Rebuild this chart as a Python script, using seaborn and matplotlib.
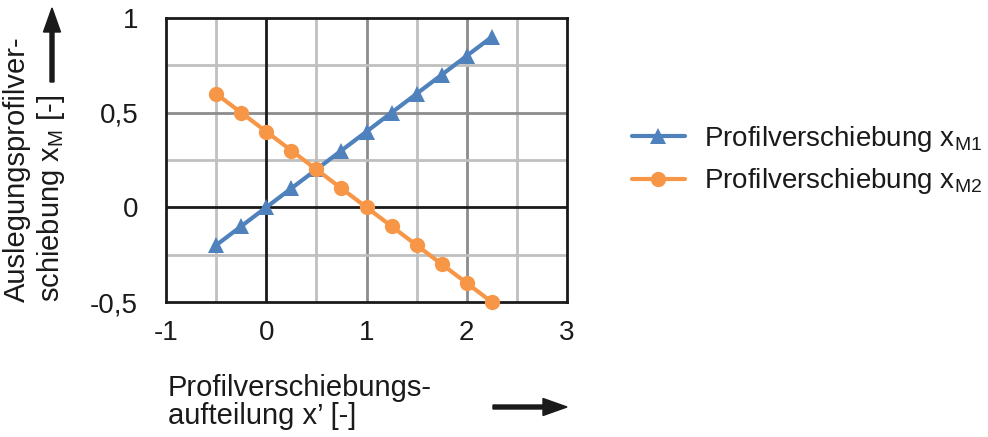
import numpy as np
import pandas as pd
import matplotlib
matplotlib.use("Agg")
import matplotlib.pyplot as plt
from matplotlib.patches import FancyArrow
from matplotlib.transforms import IdentityTransform
import seaborn as sns

x_vals = [-0.5, -0.25, 0, 0.25, 0.5, 0.75, 1, 1.25, 1.5, 1.75, 2, 2.25]
xm1 = [-0.2, -0.1, 0.0, 0.1, 0.2, 0.3, 0.4, 0.5, 0.6, 0.7, 0.8, 0.9]
xm2 = [0.6, 0.5, 0.4, 0.3, 0.2, 0.1, 0.0, -0.1, -0.2, -0.3, -0.4, -0.5]
s1 = r"Profilverschiebung x$_\mathregular{M1}$"
s2 = r"Profilverschiebung x$_\mathregular{M2}$"
x_ticks = [-1, 0, 1, 2, 3]
x_ticklabels = ["-1", "0", "1", "2", "3"]
y_ticks = [-0.5, 0, 0.5, 1]
y_ticklabels = ["-0,5", "0", "0,5", "1"]

df = pd.DataFrame({
    "x": x_vals + x_vals,
    "y": xm1 + xm2,
    "series": [s1] * len(x_vals) + [s2] * len(x_vals),
})

sns.set_theme(style="white")
plt.rcParams['font.family'] = ['Liberation Sans', 'DejaVu Sans']
plt.rcParams['mathtext.fontset'] = 'custom'
plt.rcParams['mathtext.rm'] = 'Liberation Sans'

W, H = 988, 437
fig = plt.figure(figsize=(W / 100, H / 100), dpi=100)
ax = fig.add_axes([166 / W, 1 - 302 / H, 401 / W, 284 / H])

blue = "#4F81BD"
orange = "#F79646"
dark = "#1a1a1a"

ax.set_xlim(-1, 3)
ax.set_ylim(-0.5, 1)

# grid
for xv in np.arange(-0.5, 3.0, 0.5):
    if abs(xv) < 1e-9:
        continue
    c = "#8C8C8C" if abs(xv - round(xv)) < 1e-9 else "#C0C0C0"
    ax.axvline(xv, color=c, lw=2, zorder=0)
for yv in np.arange(-0.25, 1.0, 0.25):
    if abs(yv) < 1e-9:
        continue
    c = "#8C8C8C" if abs(yv * 2 - round(yv * 2)) < 1e-9 else "#C0C0C0"
    ax.axhline(yv, color=c, lw=2, zorder=0)
ax.axvline(0, color=dark, lw=2, zorder=1)
ax.axhline(0, color=dark, lw=2, zorder=1)

sns.lineplot(data=df, x="x", y="y", hue="series", style="series",
             markers={s1: "^", s2: "o"}, dashes=False,
             palette={s1: blue, s2: orange}, lw=3, markersize=11,
             markeredgewidth=0, ax=ax, zorder=3, clip_on=False)

for sp in ax.spines.values():
    sp.set_visible(True)
    sp.set_color(dark)
    sp.set_linewidth(2)

ax.set_xticks(x_ticks)
ax.set_xticklabels(x_ticklabels)
ax.set_yticks(y_ticks)
ax.set_yticklabels(y_ticklabels)
ax.tick_params(axis="both", length=0, labelsize=20, colors=dark)
ax.tick_params(axis="x", pad=13)
ax.tick_params(axis="y", pad=20)
ax.set_xlabel("")
ax.set_ylabel("")

leg = ax.legend(loc="center left", bbox_to_anchor=(1.1, 0.5), frameon=False,
                fontsize=20, handlelength=1.9, labelspacing=0.45, handletextpad=0.7)
for h in leg.legend_handles:
    h.set_linewidth(3)
    h.set_markersize(11)
for t in leg.get_texts():
    t.set_color(dark)

# y label
fig.text(17 / W, 1 - 302 / H, "Auslegungsprofilver-", rotation=90,
         fontsize=21, ha="center", va="bottom", color=dark)
fig.text(51 / W, 1 - 302 / H, r"schiebung x$_\mathregular{M}$ [-]", rotation=90,
         fontsize=21, ha="center", va="bottom", color=dark)
fig.add_artist(FancyArrow(52, H - 82, 0, 74, width=4, head_width=17, head_length=24,
                          length_includes_head=True, color=dark,
                          transform=IdentityTransform()))

# x label
fig.text(168 / W, 1 - 388 / H, "Profilverschiebungs-", fontsize=21,
         ha="left", va="center", color=dark)
fig.text(168 / W, 1 - 416 / H, "aufteilung x\u2019 [-]", fontsize=21,
         ha="left", va="center", color=dark)
fig.add_artist(FancyArrow(493, H - 407, 74, 0, width=4, head_width=17, head_length=24,
                          length_includes_head=True, color=dark,
                          transform=IdentityTransform()))

fig.savefig("out.png", dpi=100)
